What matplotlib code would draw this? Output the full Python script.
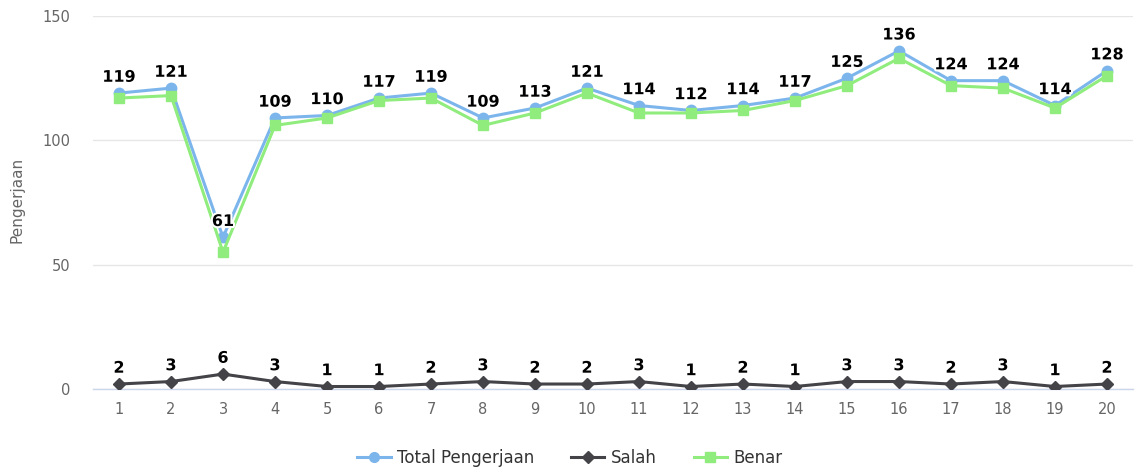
import numpy as np
import matplotlib.pyplot as plt
import matplotlib.patheffects as pe
from matplotlib.lines import Line2D

categories = [str(i) for i in range(1, 21)]
total = [119, 121, 61, 109, 110, 117, 119, 109, 113, 121, 114, 112, 114, 117, 125, 136, 124, 124, 114, 128]
salah = [2, 3, 6, 3, 1, 1, 2, 3, 2, 2, 3, 1, 2, 1, 3, 3, 2, 3, 1, 2]
benar = [117, 118, 55, 106, 109, 116, 117, 106, 111, 119, 111, 111, 112, 116, 122, 133, 122, 121, 113, 126]
yticks = [0, 50, 100, 150]

c_total = '#7cb5ec'
c_salah = '#434348'
c_benar = '#90ed7d'

fig = plt.figure(figsize=(11.41, 4.72), dpi=100)
ax = fig.add_axes([93/1141, 83/472, 1040/1141, 373/472])

x = np.arange(1, len(categories) + 1)

ax.plot(x, total, color=c_total, lw=2.2, marker='o', ms=7.5, zorder=3)
ax.plot(x, salah, color=c_salah, lw=2.2, marker='D', ms=6.5, zorder=3)
ax.plot(x, benar, color=c_benar, lw=2.2, marker='s', ms=7, zorder=4)

stroke = [pe.withStroke(linewidth=3, foreground='white')]
for xi, v in zip(x, total):
    ax.annotate(str(v), (xi, v), xytext=(0, 6), textcoords='offset points',
                ha='center', va='bottom', fontsize=11.5, fontweight='semibold',
                color='black', path_effects=stroke, zorder=6)
for xi, v in zip(x, salah):
    ax.annotate(str(v), (xi, v), xytext=(0, 6), textcoords='offset points',
                ha='center', va='bottom', fontsize=11.5, fontweight='semibold',
                color='black', path_effects=stroke, zorder=6)

ax.set_xlim(0.5, len(categories) + 0.5)
ax.set_ylim(0, 150)
ax.set_xticks(x)
ax.set_xticklabels(categories)
ax.set_yticks(yticks)
ax.tick_params(axis='both', length=0, colors='#666666', labelsize=10.5)
ax.tick_params(axis='y', pad=16)
ax.tick_params(axis='x', pad=9)
ax.grid(axis='y', color='#e6e6e6', lw=1)
ax.set_axisbelow(True)
for s in ['top', 'right', 'left']:
    ax.spines[s].set_visible(False)
ax.spines['bottom'].set_color('#ccd6eb')
ax.spines['bottom'].set_linewidth(1)
ax.spines['bottom'].set_zorder(2)

fig.text(17/1141, 1 - 200/472, 'Pengerjaan', rotation=90, ha='center', va='center',
         color='#666666', fontsize=11)

handles = [
    Line2D([], [], color=c_total, lw=2.2, marker='o', ms=7),
    Line2D([], [], color=c_salah, lw=2.2, marker='D', ms=6),
    Line2D([], [], color=c_benar, lw=2.2, marker='s', ms=6.5),
]
fig.legend(handles, ['Total Pengerjaan', 'Salah', 'Benar'], loc='center',
           bbox_to_anchor=(570/1141, 1 - 458/472), ncol=3, frameon=False,
           fontsize=12, handlelength=2, columnspacing=2.2, handletextpad=0.4,
           labelcolor='#333333')

fig.savefig('out.png', dpi=100, facecolor='white')
